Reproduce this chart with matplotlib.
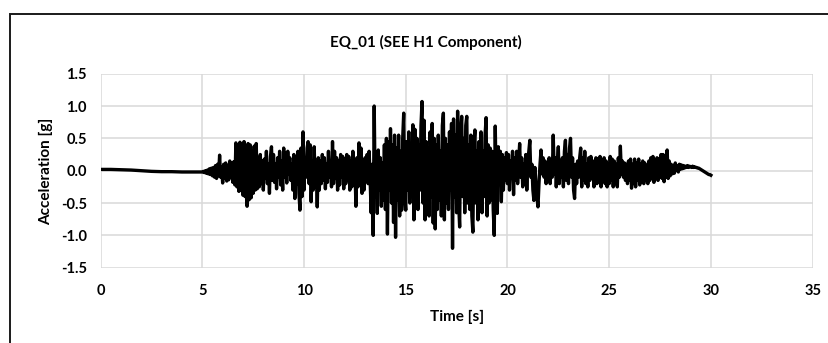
import numpy as np
import matplotlib
matplotlib.use("Agg")
import matplotlib.pyplot as plt
from matplotlib.patches import Rectangle

# ---------------- data ----------------
title = "EQ_01 (SEE H1 Component)"
x_label = "Time [s]"
y_label = "Acceleration [g]"
x_ticks = [0, 5, 10, 15, 20, 25, 30, 35]
y_ticks = [-1.5, -1.0, -0.5, 0.0, 0.5, 1.0, 1.5]

# quiet pre-event part (0 - 4.5 s, every 0.5 s)
pre_time = [0.0, 0.5, 1.0, 1.5, 2.0, 2.5, 3.0, 3.5, 4.0, 4.5]
pre_acc = [0.02, 0.02, 0.015, 0.01, 0.0, -0.01, -0.015, -0.015, -0.02, -0.02]

# strong-motion part, sampled every 0.05 s starting at 5.0 s (one list per second)
dt = 0.05
acc_05 = [-0.02, -0.01, -0.03, 0.0, -0.04, 0.01, -0.05, 0.03, -0.06, 0.04, -0.08, 0.05, -0.10, 0.08, -0.12, 0.10, -0.08, 0.24, -0.10, 0.06]
acc_06 = [-0.19, 0.10, -0.12, 0.12, -0.16, 0.08, -0.14, 0.15, -0.10, 0.12, -0.18, 0.14, -0.22, 0.43, -0.25, 0.40, -0.32, 0.44, -0.30, 0.38]
acc_07 = [-0.38, 0.45, -0.40, 0.36, -0.55, 0.42, -0.45, 0.40, -0.42, 0.30, -0.35, 0.38, -0.30, 0.42, -0.28, 0.20, -0.25, 0.25, -0.20, 0.15]
acc_08 = [-0.30, 0.18, -0.12, 0.30, -0.20, 0.10, -0.35, 0.22, 0.37, -0.15, 0.25, -0.18, 0.10, -0.28, 0.20, -0.10, 0.30, -0.22, 0.15, -0.30]
acc_09 = [0.35, -0.10, 0.28, -0.19, 0.30, -0.05, 0.20, -0.15, 0.10, -0.30, 0.25, -0.43, 0.15, -0.20, 0.30, -0.35, -0.61, 0.35, -0.40, 0.60]
acc_10 = [-0.30, 0.20, -0.10, 0.35, 0.45, -0.20, 0.40, -0.48, 0.15, -0.30, 0.37, -0.25, 0.10, -0.56, 0.20, -0.30, 0.15, -0.20, 0.25, -0.15]
acc_11 = [0.20, -0.28, 0.10, -0.18, 0.30, -0.10, 0.15, -0.25, 0.45, -0.20, 0.30, -0.12, 0.20, -0.30, 0.15, -0.22, 0.25, -0.10, 0.22, -0.28]
acc_12 = [0.18, -0.20, 0.25, -0.15, 0.22, -0.30, 0.15, -0.25, 0.30, -0.20, 0.10, -0.55, 0.20, -0.25, 0.43, -0.10, 0.35, -0.35, 0.15, -0.30]
acc_13 = [0.20, -0.10, 0.25, -0.20, 0.30, -0.15, -0.65, 0.10, -1.00, 1.00, -0.40, 0.25, -0.66, 0.32, -0.30, 0.20, -0.55, 0.12, -0.45, 0.40]
acc_14 = [-0.60, 0.50, -0.98, 0.45, -0.30, 0.65, -0.50, 0.40, -0.80, 0.55, -1.03, 0.35, -0.45, 0.55, -0.70, 0.30, -0.61, 0.50, 0.89, -0.40]
acc_15 = [-0.61, 0.45, -0.30, 0.60, -0.50, 0.35, -0.20, 0.71, -0.76, 0.64, -0.40, 0.50, -0.60, 0.40, -0.30, 0.70, 1.07, -0.50, 0.78, -0.76]
acc_16 = [0.45, -0.55, 0.35, -0.70, 0.60, -0.40, 0.73, -0.81, 0.50, -0.90, 0.40, -0.60, 0.55, -0.45, 0.30, -0.70, 0.70, 0.89, -0.76, 0.50]
acc_17 = [-0.50, 0.40, -0.60, 0.60, -0.30, 0.73, -1.20, 0.80, -0.40, 0.55, -0.65, 0.92, -0.50, -0.87, 0.60, 0.84, -0.40, 0.50, -0.65, 0.70]
acc_18 = [0.84, -0.50, 0.40, -0.60, 0.55, -0.70, -0.95, 0.40, 0.63, -0.50, 0.30, -0.76, 0.45, -0.35, 0.60, -0.65, 0.30, -0.40, 0.55, 0.82]
acc_19 = [-0.70, 0.40, -0.50, 0.35, -0.45, 0.30, -0.60, -1.00, 0.69, -0.30, -0.66, 0.37, -0.20, 0.30, -0.48, 0.25, -0.30, 0.20, -0.15, 0.28]
acc_20 = [-0.20, 0.25, -0.30, 0.15, -0.10, 0.30, -0.37, 0.20, -0.15, 0.30, -0.20, 0.15, 0.42, -0.10, 0.20, -0.25, 0.10, -0.20, 0.25, -0.30]
acc_21 = [0.15, 0.30, 0.47, -0.10, 0.10, -0.30, -0.46, 0.05, -0.20, -0.40, -0.56, -0.20, 0.10, 0.32, -0.05, 0.20, -0.10, 0.15, -0.20, 0.10]
acc_22 = [-0.15, 0.20, -0.20, 0.15, -0.10, 0.55, -0.05, 0.20, -0.25, 0.10, 0.37, -0.20, 0.15, -0.10, 0.20, -0.25, 0.30, 0.47, -0.15, 0.25]
acc_23 = [-0.20, 0.35, 0.50, -0.10, 0.20, -0.30, -0.43, 0.10, -0.20, 0.15, -0.10, 0.20, 0.35, -0.25, 0.20, -0.15, 0.30, -0.20, 0.10, -0.25]
acc_24 = [0.20, -0.15, 0.22, -0.10, 0.15, -0.25, 0.05, 0.20, -0.20, 0.18, -0.10, 0.22, -0.25, 0.10, -0.15, 0.20, -0.20, 0.15, -0.25, 0.10]
acc_25 = [-0.20, 0.22, -0.15, 0.18, -0.25, 0.15, -0.20, 0.10, -0.25, 0.20, -0.10, 0.38, -0.05, 0.15, -0.10, 0.12, -0.15, 0.10, -0.20, 0.15]
acc_26 = [-0.15, 0.18, -0.27, 0.10, -0.20, 0.18, -0.25, 0.12, -0.15, 0.18, -0.22, 0.10, -0.18, 0.15, -0.20, 0.12, -0.15, 0.08, -0.20, 0.15]
acc_27 = [-0.15, 0.20, -0.10, 0.22, -0.18, 0.10, -0.12, 0.20, -0.15, 0.18, -0.10, 0.25, -0.12, 0.25, -0.17, 0.20, -0.10, 0.32, -0.12, 0.15]
acc_28 = [-0.08, 0.10, -0.05, 0.08, -0.04, 0.12, 0.0, 0.08, -0.02, 0.10, 0.02, 0.09, 0.03, 0.08, 0.04, 0.07, 0.05, 0.08, 0.05, 0.07]
acc_29 = [0.06, 0.05, 0.07, 0.05, 0.06, 0.05, 0.05, 0.04, 0.04, 0.03, 0.02, 0.01, 0.0, -0.01, -0.02, -0.03, -0.04, -0.05, -0.06, -0.06]
acc_30 = [-0.07]

dense_start = 5.0
dense_acc = (acc_05 + acc_06 + acc_07 + acc_08 + acc_09 + acc_10 + acc_11 + acc_12 +
             acc_13 + acc_14 + acc_15 + acc_16 + acc_17 + acc_18 + acc_19 + acc_20 +
             acc_21 + acc_22 + acc_23 + acc_24 + acc_25 + acc_26 + acc_27 + acc_28 +
             acc_29 + acc_30)
dense_time = list(dense_start + dt * np.arange(len(dense_acc)))

time = np.array(pre_time + dense_time)
acc = np.array(pre_acc + dense_acc)

# ---------------- figure ----------------
W, H = 829, 343
fig = plt.figure(figsize=(W / 100, H / 100), dpi=100)
fig.patch.set_facecolor("white")

FONT = ["Lato", "DejaVu Sans"]

# outer chart border
fig.patches.append(Rectangle((10.5 / W, -0.05), (W + 10) / W, 1 - 14 / H + 0.05,
                             transform=fig.transFigure, fill=False,
                             edgecolor="#1a1a1a", linewidth=1.4))

ax = fig.add_axes([100.6 / W, 1 - 267.7 / H, 712 / W, 194 / H])
ax.plot(time, acc, color="black", linewidth=2.4, solid_joinstyle="round", zorder=3)

ax.set_xlim(0, 35)
ax.set_ylim(-1.5, 1.5)
ax.set_xticks(x_ticks)
ax.set_yticks(y_ticks)
ax.set_xticklabels([str(v) for v in x_ticks], fontfamily=FONT, fontweight="bold", fontsize=10.5)
ax.set_yticklabels([f"{v:.1f}" for v in y_ticks], fontfamily=FONT, fontweight="bold", fontsize=10.5)
ax.tick_params(axis="x", length=0, pad=11.5)
ax.tick_params(axis="y", length=0, pad=10)
ax.grid(True, color="#d9d9d9", linewidth=1.1, zorder=0)
ax.set_axisbelow(True)
for s in ax.spines.values():
    s.set_visible(False)

fig.text(457 / W, 1 - 317 / H, x_label, ha="center", va="center",
         fontfamily=FONT, fontweight="bold", fontsize=11)
fig.text(46.5 / W, 1 - 171 / H, y_label, ha="center", va="center", rotation=90,
         fontfamily=FONT, fontweight="bold", fontsize=11)
fig.text(426 / W, 1 - 42 / H, title, ha="center", va="center",
         fontfamily=FONT, fontweight="bold", fontsize=11)

fig.savefig("out.png", dpi=100, facecolor="white")
